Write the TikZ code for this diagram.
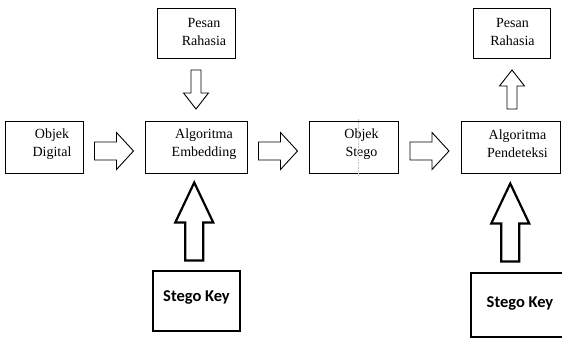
\documentclass[tikz,border=0pt]{standalone}
\usepackage{fontspec}
\setmainfont{Liberation Serif}
\newfontfamily\keyfont{Carlito}
\usetikzlibrary{calc}
\tikzset{
  box/.style={draw, line width=0.9pt, inner sep=0pt},
  keybox/.style={draw, line width=2.8pt, inner sep=0pt},
  txt/.style={align=center, inner sep=0pt, font=\fontsize{14}{18}\selectfont},
  keytxt/.style={inner sep=0pt, font=\keyfont\bfseries\fontsize{16.5}{18}\selectfont},
  harrow/.pic={\draw[line width=0.9pt, line join=miter]
     (-19.5,-9) -- (2.5,-9) -- (2.5,-18.5) -- (19.5,0) -- (2.5,18.5) -- (2.5,9) -- (-19.5,9) -- cycle;},
  downarrow/.pic={\draw[line width=0.9pt, line join=miter]
     (-5,-19.5) -- (5,-19.5) -- (5,3.5) -- (12.5,3.5) -- (0,19.5) -- (-12.5,3.5) -- (-5,3.5) -- cycle;},
  uparrow/.pic={\draw[line width=0.9pt, line join=miter]
     (-5,19.5) -- (5,19.5) -- (5,-3.5) -- (12.5,-3.5) -- (0,-19.5) -- (-12.5,-3.5) -- (-5,-3.5) -- cycle;},
  bigup/.pic={\draw[line width=2.2pt, line join=miter]
     (-9,39) -- (9,39) -- (9,1) -- (19,1) -- (0,-39) -- (-19,1) -- (-9,1) -- cycle;},
}
\begin{document}
\begin{tikzpicture}[x=1pt,y=-1pt]
\useasboundingbox (0,0) rectangle (562,339);
% main row boxes
\node[box, minimum width=78pt, minimum height=52pt] (dig) at (44,147) {};
\node[box, minimum width=102pt, minimum height=52pt] (emb) at (196,147) {};
\node[box, minimum width=89pt, minimum height=52pt] (stg) at (353.5,147) {};
\node[box, minimum width=99pt, minimum height=52pt] (det) at (510.5,147) {};
% top boxes
\node[box, minimum width=78pt, minimum height=50pt] (pes1) at (196,33) {};
\node[box, minimum width=77pt, minimum height=50pt] (pes2) at (511.5,33) {};
% key boxes
\node[keybox, minimum width=87pt, minimum height=60pt] (key1) at (196.5,301) {};
\node[keybox, minimum width=98pt, minimum height=64pt] (key2) at (520,305) {};
% texts
\node[txt] (tdig) at ($(dig.center)+(8,-3)$) {Objek\\Digital};
\node[txt] (temb) at ($(emb.center)+(8,-3)$) {Algoritma\\Embedding};
\node[txt] (tstg) at ($(stg.center)+(8,-3)$) {Objek\\Stego};
\node[txt] (tdet) at ($(det.center)+(7,-3)$) {Algoritma\\Pendeteksi};
\node[txt] (tpes1) at ($(pes1.center)+(8,-1)$) {Pesan\\Rahasia};
\node[txt] (tpes2) at ($(pes2.center)+(1,-1)$) {Pesan\\Rahasia};
\node[keytxt] (tkey1) at ($(key1.center)+(0,-4)$) {Stego Key};
\node[keytxt] (tkey2) at ($(key2.center)+(0,-2)$) {Stego Key};
% faint guide line in Objek Stego
\draw[gray!45, densely dotted, line width=0.6pt] ($(stg.north)+(4.5,-2)$) -- ($(stg.south)+(4.5,2)$);
% block arrows
\pic at ($(dig.east)!0.5!(emb.west)+(0,4)$) {harrow};
\pic at ($(emb.east)!0.5!(stg.west)+(0,4)$) {harrow};
\pic at ($(stg.east)!0.5!(det.west)+(0,4)$) {harrow};
\pic at ($(pes1.south)!0.5!(emb.north)$) {downarrow};
\pic at ($(det.north)!0.5!(pes2.south)+(1,0)$) {uparrow};
\pic at ($(key1.north)!0.5!(emb.south)+(-2,0)$) {bigup};
\pic at ($(key2.north)!0.5!(det.south)+(-5,0)$) {bigup};
\end{tikzpicture}
\end{document}
